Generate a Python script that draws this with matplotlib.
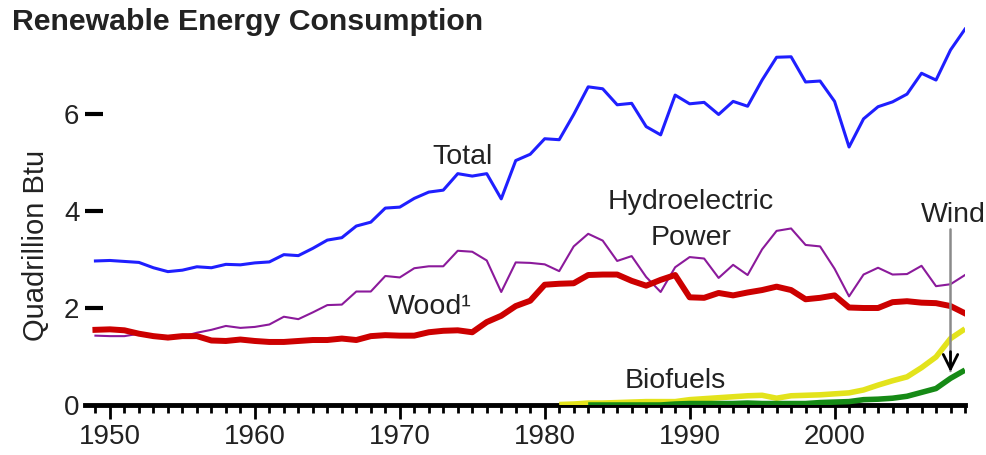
import matplotlib
matplotlib.use("Agg")
import matplotlib.pyplot as plt
import numpy as np

# Renewable energy consumption, quadrillion Btu
years = np.arange(1949, 2010)

total = [2.97, 2.98, 2.96, 2.94, 2.83, 2.75, 2.78, 2.85, 2.83, 2.90,
         2.89, 2.93, 2.95, 3.10, 3.08, 3.23, 3.40, 3.45, 3.69, 3.77,
         4.06, 4.08, 4.26, 4.39, 4.43, 4.77, 4.72, 4.77, 4.25, 5.04,
         5.17, 5.49, 5.47, 5.99, 6.56, 6.52, 6.19, 6.22, 5.74, 5.57,
         6.39, 6.21, 6.24, 5.99, 6.26, 6.16, 6.70, 7.17, 7.18, 6.66,
         6.68, 6.26, 5.32, 5.90, 6.15, 6.25, 6.41, 6.84, 6.70, 7.32,
         7.75]

hydro = [1.43, 1.42, 1.42, 1.47, 1.41, 1.36, 1.41, 1.49, 1.55, 1.63,
         1.59, 1.61, 1.66, 1.82, 1.77, 1.91, 2.06, 2.07, 2.34, 2.34,
         2.66, 2.63, 2.82, 2.86, 2.86, 3.18, 3.16, 2.98, 2.33, 2.94,
         2.93, 2.90, 2.76, 3.27, 3.53, 3.39, 2.97, 3.07, 2.64, 2.33,
         2.84, 3.05, 3.02, 2.62, 2.89, 2.68, 3.21, 3.59, 3.64, 3.30,
         3.27, 2.81, 2.24, 2.69, 2.83, 2.69, 2.70, 2.87, 2.45, 2.49,
         2.68]

wood = [1.55, 1.56, 1.54, 1.47, 1.42, 1.39, 1.42, 1.42, 1.33, 1.32,
        1.35, 1.32, 1.30, 1.30, 1.32, 1.34, 1.34, 1.37, 1.34, 1.42,
        1.44, 1.43, 1.43, 1.50, 1.53, 1.54, 1.50, 1.71, 1.84, 2.04,
        2.15, 2.48, 2.50, 2.51, 2.68, 2.69, 2.69, 2.56, 2.46, 2.58,
        2.68, 2.22, 2.21, 2.31, 2.26, 2.32, 2.37, 2.44, 2.37, 2.18,
        2.21, 2.26, 2.01, 2.00, 2.00, 2.12, 2.14, 2.11, 2.10, 2.04,
        1.89]

bio_years = np.arange(1981, 2010)
biofuels = [0.01, 0.02, 0.04, 0.04, 0.05, 0.06, 0.07, 0.07, 0.07, 0.11,
            0.13, 0.15, 0.17, 0.19, 0.20, 0.14, 0.19, 0.20, 0.21, 0.23,
            0.25, 0.31, 0.41, 0.50, 0.58, 0.77, 0.99, 1.37, 1.57]

wind_years = np.arange(1983, 2010)
wind = [0.00, 0.00, 0.00, 0.00, 0.00, 0.00, 0.02, 0.03, 0.03, 0.03,
        0.03, 0.04, 0.03, 0.03, 0.03, 0.03, 0.05, 0.06, 0.07, 0.11,
        0.12, 0.14, 0.18, 0.26, 0.34, 0.55, 0.72]

plt.rcParams['font.family'] = ['Liberation Sans', 'DejaVu Sans']
txt = '#222222'

fig = plt.figure(figsize=(9.86, 4.55), dpi=100)
ax = fig.add_axes([85/986, 50/455, 880/986, 388/455])

ax.plot(years, total, color='#1f1fff', lw=2.2)
ax.plot(years, hydro, color='#8b1a9b', lw=1.5)
ax.plot(years, wood, color='#cc0000', lw=4.3)
ax.plot(bio_years, biofuels, color='#e3e31c', lw=4, solid_capstyle='butt')
ax.plot(wind_years, wind, color='#168a16', lw=4, solid_capstyle='butt')

ax.set_xlim(1948.28, 2009)
ax.set_ylim(0, 8)

for s in ['top', 'right', 'left']:
    ax.spines[s].set_visible(False)
ax.spines['bottom'].set_linewidth(3.5)
ax.spines['bottom'].set_zorder(1)

ax.set_xticks(range(1950, 2001, 10))
ax.set_xticks(range(1949, 2010), minor=True)
ax.tick_params(axis='x', which='major', length=10, width=2, labelsize=20,
               colors='black', labelcolor=txt, pad=4)
ax.tick_params(axis='x', which='minor', length=6, width=2, color='black')
ax.set_yticks([0, 2, 4, 6])
ax.tick_params(axis='y', length=13, width=3, labelsize=20, labelcolor=txt,
               pad=4, direction='in')
ax.yaxis.get_major_ticks()[0].tick1line.set_visible(False)
ax.set_ylabel('Quadrillion Btu', fontsize=21, color=txt)
ax.yaxis.set_label_coords(-0.040, 0.41)

fs = 20.5
ax.text(1974.3, 5.11, 'Total', fontsize=fs, color=txt, ha='center', va='center')
ax.text(1990.1, 4.19, 'Hydroelectric', fontsize=fs, color=txt, ha='center', va='center')
ax.text(1990.1, 3.44, 'Power', fontsize=fs, color=txt, ha='center', va='center')
ax.text(1972.1, 2.02, 'Wood\u00b9', fontsize=fs, color=txt, ha='center', va='center')
ax.text(1989.0, 0.50, 'Biofuels', fontsize=fs, color=txt, ha='center', va='center')
ax.text(2008.2, 3.92, 'Wind', fontsize=fs, color=txt, ha='center', va='center')

# pointer for Wind: grey shaft, black open head
ax.annotate('', xy=(2008.0, 0.70), xytext=(2008.0, 3.62),
            arrowprops=dict(arrowstyle='-', color='#8a8a8a', lw=1.8,
                            shrinkA=0, shrinkB=0))
ax.annotate('', xy=(2008.0, 0.68), xytext=(2008.0, 1.1),
            arrowprops=dict(arrowstyle='->', color='black', lw=2,
                            mutation_scale=26, shrinkA=0, shrinkB=0))

fig.text(12/986, 1 - 22/455, 'Renewable Energy Consumption', fontsize=21.8,
         fontweight='bold', color=txt, ha='left', va='center')

fig.savefig('out.png', dpi=100)
